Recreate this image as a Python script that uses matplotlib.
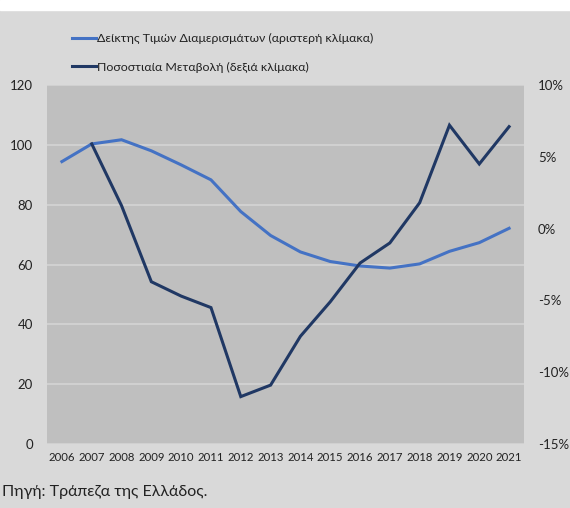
import matplotlib.pyplot as plt
from matplotlib.ticker import FuncFormatter
from matplotlib.lines import Line2D

years = [str(y) for y in range(2006, 2022)]
price_index = [94.4, 100.3, 101.7, 98.0, 93.3, 88.3, 77.7, 69.7, 64.2,
               61.0, 59.5, 58.8, 60.2, 64.4, 67.3, 72.1]
pct_years = years[1:]
pct_change = [5.9, 1.6, -3.7, -4.7, -5.5, -11.7, -10.9, -7.5, -5.1,
              -2.4, -1.0, 1.8, 7.2, 4.5, 7.1]

label_index = "Δείκτης Τιμών Διαμερισμάτων (αριστερή κλίμακα)"
label_pct = "Ποσοστιαία Μεταβολή (δεξιά κλίμακα)"
source = "Πηγή: Τράπεζα της Ελλάδος."

plt.rcParams["font.family"] = ["Lato", "Noto Sans", "DejaVu Sans"]
blue = "#4472c4"
navy = "#203864"

fig = plt.figure(figsize=(5.7, 5.08), dpi=100, facecolor="#d9d9d9")
ax = fig.add_axes([47 / 570, 64 / 508, 477 / 570, 359 / 508])
ax.set_facecolor("#bfbfbf")
ax2 = ax.twinx()

x = list(range(len(years)))
x2 = x[1:]
ax.plot(x, price_index, color=blue, lw=2.2, solid_joinstyle="miter")
ax2.plot(x2, [v / 100 for v in pct_change], color=navy, lw=2.2, solid_joinstyle="miter")

ax.set_xlim(-0.5, len(years) - 0.5)
ax.set_ylim(0, 120)
ax.set_yticks(range(0, 121, 20))
ax2.set_ylim(-0.15, 0.10)
ax2.set_yticks([-0.15, -0.10, -0.05, 0, 0.05, 0.10])
# plain hyphen for negatives, as in the source chart
ax2.yaxis.set_major_formatter(FuncFormatter(lambda v, _: f"{round(v * 100):d}%".replace("\u2212", "-")))
ax.set_xticks(x)
ax.set_xticklabels(years)

ax.grid(axis="y", color="#d4d4d4", lw=1.2)
ax.set_axisbelow(True)
for a in (ax, ax2):
    for s in a.spines.values():
        s.set_visible(False)
ax.tick_params(axis="y", length=0, pad=10, labelsize=9.5, colors="#222222")
ax.tick_params(axis="x", length=0, pad=6, labelsize=8.2, colors="#222222")
ax2.tick_params(axis="y", length=0, pad=10, labelsize=9.5, colors="#222222")

handles = [Line2D([], [], color=blue, lw=2.2), Line2D([], [], color=navy, lw=2.2)]
fig.legend(handles, [label_index, label_pct], loc="upper left",
           bbox_to_anchor=(61 / 570, 1 - 22 / 508), frameon=False,
           fontsize=8.9, handlelength=1.9, handletextpad=0.1,
           labelspacing=1.4, labelcolor="#222222")

# white strip at the very top of the image
fig.patches.append(plt.Rectangle((0, 1 - 10 / 508), 1, 10 / 508,
                                 transform=fig.transFigure, color="white", zorder=0))

fig.text(2 / 570, 1 - 492 / 508, source, fontsize=11.5, color="#222222", va="center")

fig.savefig("out.png", dpi=100, facecolor=fig.get_facecolor())
